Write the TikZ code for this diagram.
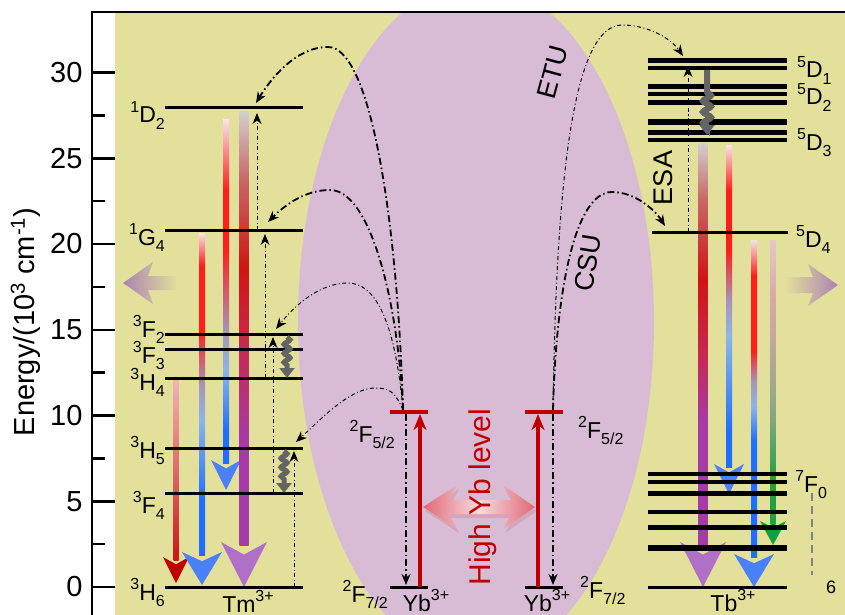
\documentclass[tikz,border=0pt]{standalone}
\usepackage{fontspec}
\setmainfont{Liberation Sans}
\usetikzlibrary{arrows.meta,decorations.pathmorphing}

\definecolor{khaki}{HTML}{E3E09B}
\definecolor{lilac}{HTML}{D8BCD6}
\definecolor{ybred}{HTML}{C00000}
\definecolor{waveg}{HTML}{646464}
\definecolor{glow}{HTML}{AA84B2}
\definecolor{pinkend}{HTML}{E06878}
\definecolor{pinkmid}{HTML}{F7DADD}
\definecolor{pale}{HTML}{F4E4E8}
\definecolor{pinkA}{HTML}{F0B4B4}
\definecolor{redA}{HTML}{E06868}
\definecolor{redB}{HTML}{D01414}
\definecolor{brightred}{HTML}{FF1E1E}
\definecolor{greyblue}{HTML}{A894B8}
\definecolor{lightblue}{HTML}{8CB6E8}
\definecolor{bblue}{HTML}{1E6EFF}
\definecolor{headblue}{HTML}{4A80F8}
\definecolor{greyd}{HTML}{D4CECE}
\definecolor{rosy}{HTML}{C86666}
\definecolor{crimson}{HTML}{C8284C}
\definecolor{purp}{HTML}{A63AA6}
\definecolor{headpurp}{HTML}{B070C8}
\definecolor{paleR}{HTML}{E4C8C8}
\definecolor{dusty}{HTML}{D8A8A8}
\definecolor{olivegrey}{HTML}{A8A890}
\definecolor{sage}{HTML}{80A880}
\definecolor{grn}{HTML}{22A046}
\definecolor{headgrn}{HTML}{10A040}

\pgfdeclareverticalshading{tmA}{100bp}{color(0bp)=(redB); color(25bp)=(redB); color(50bp)=(redA); color(75bp)=(pinkA); color(100bp)=(pinkA)}
\pgfdeclareverticalshading{tmB}{100bp}{color(0bp)=(bblue); color(33.5bp)=(bblue); color(46bp)=(lightblue); color(51.4bp)=(greyblue); color(59.9bp)=(brightred); color(70bp)=(brightred); color(75bp)=(pale); color(100bp)=(pale)}
\pgfdeclareverticalshading{tmC}{100bp}{color(0bp)=(bblue); color(29.7bp)=(bblue); color(38.5bp)=(lightblue); color(44.3bp)=(greyblue); color(56bp)=(brightred); color(64.8bp)=(brightred); color(75bp)=(pale); color(100bp)=(pale)}
\pgfdeclareverticalshading{tmD}{100bp}{color(0bp)=(purp); color(37.1bp)=(purp); color(48.7bp)=(crimson); color(56.8bp)=(redB); color(67.1bp)=(rosy); color(75bp)=(greyd); color(100bp)=(greyd)}
\pgfdeclareverticalshading{tbA}{100bp}{color(0bp)=(purp); color(40.5bp)=(purp); color(49.3bp)=(crimson); color(58bp)=(redB); color(67.9bp)=(rosy); color(75bp)=(greyd); color(100bp)=(greyd)}
\pgfdeclareverticalshading{tbB}{100bp}{color(0bp)=(bblue); color(30.5bp)=(bblue); color(45.3bp)=(lightblue); color(50.8bp)=(greyblue); color(58.6bp)=(brightred); color(68bp)=(brightred); color(75bp)=(pale); color(100bp)=(pale)}
\pgfdeclareverticalshading{tbC}{100bp}{color(0bp)=(bblue); color(43.3bp)=(bblue); color(48.8bp)=(lightblue); color(52.8bp)=(greyblue); color(57.5bp)=(brightred); color(69.4bp)=(brightred); color(75bp)=(pale); color(100bp)=(pale)}
\pgfdeclareverticalshading{tbD}{100bp}{color(0bp)=(grn); color(32.9bp)=(grn); color(43.4bp)=(sage); color(50.4bp)=(olivegrey); color(64.5bp)=(dusty); color(75bp)=(paleR); color(100bp)=(paleR)}
\pgfdeclarehorizontalshading{ybglow}{100bp}{color(0bp)=(pinkend); color(25bp)=(pinkend); color(50bp)=(pinkmid); color(75bp)=(pinkend); color(100bp)=(pinkend)}

\newcommand{\term}[3]{\raisebox{0.45em}{\fontsize{16}{16}\selectfont#1}#2\raisebox{-0.3em}{\fontsize{16}{16}\selectfont#3}}
\newcommand{\ion}[2]{#1\raisebox{0.45em}{\fontsize{16}{16}\selectfont#2}}
\newcommand{\emit}[8]{%
  \shade[shading=#7] ({#1-#4},#2) rectangle ({#1+#4},{#3-#6+3});
  \fill[#8] (#1,#3) -- ({#1-#5},{#3-#6}) -- (#1,{#3-0.72*#6}) -- ({#1+#5},{#3-#6}) -- cycle;}

\tikzset{
  lvl/.style={line width=3pt},
  ddthick/.style={line width=1.8pt, dash pattern=on 7pt off 3pt on 1.5pt off 3pt},
  ddthin/.style={line width=1pt, dash pattern=on 4pt off 2.5pt on 1pt off 2.5pt},
  tipped/.style={-{Stealth[length=11pt,width=9pt,inset=3.5pt]}},
  pump/.style={ybred, line width=3.5pt, -{Stealth[length=16pt,width=13pt,inset=5pt]}},
  wavy/.style={draw=waveg, line width=5pt, decorate, decoration={snake, amplitude=3pt, segment length=9pt, post length=10pt}, -{Triangle[length=10pt,width=15pt]}},
  lbl/.style={font=\fontsize{23}{26}\selectfont, inner sep=0pt},
}

\begin{document}
\begin{tikzpicture}[x=1pt, y=-1pt]
  \useasboundingbox (0,0) rectangle (845,615);
  \fill[khaki] (115,13) rectangle (845,615);
  \begin{scope}
    \clip (115,13) rectangle (845,615);
    \fill[lilac] (476,322) ellipse [x radius=178, y radius=340];
  \end{scope}

  \shade[left color=glow, middle color=glow!60!khaki, right color=khaki] (123,283) -- (153,262) -- (148,276) -- (178,276) -- (178,290) -- (148,290) -- (153,304) -- cycle;
  \shade[left color=khaki, middle color=glow!60!khaki, right color=glow] (838,285) -- (808,264) -- (813,277) -- (785,277) -- (785,293) -- (813,293) -- (808,306) -- cycle;
  \fill[ybred, opacity=0.12] (425,511) -- (459,489) -- (451,504) -- (513,504) -- (505,489) -- (537,511) -- (505,533) -- (513,518) -- (451,518) -- (459,533) -- cycle;
  \shade[shading=ybglow] (423,507) -- (457,485) -- (449,500) -- (511,500) -- (503,485) -- (535,507) -- (503,529) -- (511,514) -- (449,514) -- (457,529) -- cycle;

  \emit{176}{380}{583}{2.5}{13}{26}{tmA}{ybred}
  \emit{202}{233}{585}{3}{20}{33}{tmB}{headblue}
  \emit{226}{120}{490}{3}{15}{30}{tmC}{headblue}
  \emit{244}{112}{587}{4.5}{23}{45}{tmD}{headpurp}
  \emit{703}{143}{587}{4.5}{23}{45}{tbA}{headpurp}
  \emit{729}{145}{494}{3}{15}{30}{tbB}{headblue}
  \emit{754}{240}{587}{3}{20}{33}{tbC}{headblue}
  \emit{773}{240}{545}{2.5}{13}{24}{tbD}{headgrn}

  \foreach \y in {108,230,334,349,378,448,493,587}
    \draw[lvl] (165,\y) -- (303,\y);
  \foreach \y/\w in {61/5,68/4,87/5,94/4,103/5,122/6,132/5,140/4,474/4,482/4,493/5,512/3.5,527/5,548/5.5}
    \draw[line width=\w pt] (648,\y) -- (787,\y);
  \draw[lvl] (652,232) -- (788,232);
  \draw[lvl] (648,587) -- (787,587);
  \draw[line width=3.5pt, ybred] (390,412) -- (428,412);
  \draw[lvl] (390,587) -- (428,587);
  \draw[line width=3.5pt, ybred] (525,412) -- (563,412);
  \draw[lvl] (525,587) -- (563,587);

  \coordinate (ybL) at (403,410);
  \coordinate (ybR) at (553,410);
  \coordinate (d2in) at (256,103);
  \coordinate (g4in) at (268,222);
  \coordinate (f2in) at (276,329);
  \coordinate (h5in) at (296,442);
  \coordinate (d1in) at (683,56);
  \coordinate (d4in) at (665,226);
  \coordinate (ybLup0) at (420,587);
  \coordinate (ybLup1) at (420,414);
  \coordinate (ybRup0) at (538,587);
  \coordinate (ybRup1) at (538,414);
  \coordinate (ybLdn0) at (406,414);
  \coordinate (ybLdn1) at (406,585);
  \coordinate (ybRdn0) at (553,414);
  \coordinate (ybRdn1) at (553,585);
  \coordinate (esa1a) at (257,230);
  \coordinate (esa1b) at (257,113);
  \coordinate (esa2a) at (265,378);
  \coordinate (esa2b) at (265,234);
  \coordinate (esa3a) at (273,493);
  \coordinate (esa3b) at (273,337);
  \coordinate (esa4a) at (294,587);
  \coordinate (esa4b) at (294,451);
  \coordinate (esa5a) at (688,232);
  \coordinate (esa5b) at (688,66);

  \draw[pump] (ybLup0) -- (ybLup1);
  \draw[pump] (ybRup0) -- (ybRup1);
  \draw[ddthick, tipped] (ybLdn0) -- (ybLdn1);
  \draw[ddthick, tipped] (ybRdn0) -- (ybRdn1);

  \draw[ddthick, tipped] (ybL) .. controls (398,230) and (372,47) .. (328,47) .. controls (295,47) and (270,80) .. (d2in);
  \draw[ddthick, tipped] (ybL) .. controls (398,300) and (370,190) .. (330,190) .. controls (305,190) and (285,205) .. (g4in);
  \draw[ddthin, tipped] (ybL) .. controls (395,320) and (375,283) .. (348,283) .. controls (320,283) and (295,305) .. (f2in);
  \draw[ddthin, tipped] (ybL) .. controls (395,392) and (390,388) .. (375,388) .. controls (350,388) and (320,420) .. (h5in);
  \draw[ddthin, tipped] (ybR) .. controls (556,200) and (570,25) .. (622,25) .. controls (650,25) and (672,40) .. (d1in);
  \draw[ddthick, tipped] (ybR) .. controls (556,290) and (575,192) .. (612,192) .. controls (635,192) and (655,210) .. (d4in);

  \draw[ddthin, tipped] (esa1a) -- (esa1b);
  \draw[ddthin, tipped] (esa2a) -- (esa2b);
  \draw[ddthin, tipped] (esa3a) -- (esa3b);
  \draw[ddthin, tipped] (esa4a) -- (esa4b);
  \draw[ddthin, tipped] (esa5a) -- (esa5b);

  \draw[wavy] (287,337) -- (287,378);
  \draw[wavy] (284,451) -- (284,493);
  \draw[wavy, line width=6pt, decoration={snake, amplitude=4pt, segment length=11pt, pre length=22pt, post length=6pt}] (707,70) -- (707,135);
  \draw[waveg!80, line width=2.5pt, dash pattern=on 8pt off 5pt] (812,493) -- (812,575);

  \node[lbl, anchor=base east] (tD2) at (165,123) {\term{1}{D}{2}};
  \node[lbl, anchor=base east] (tG4) at (165,245) {\term{1}{G}{4}};
  \node[lbl, anchor=base east] (tF2) at (165,337) {\term{3}{F}{2}};
  \node[lbl, anchor=base east] (tF3) at (165,363) {\term{3}{F}{3}};
  \node[lbl, anchor=base east] (tH4) at (165,390) {\term{3}{H}{4}};
  \node[lbl, anchor=base east] (tH5) at (165,458) {\term{3}{H}{5}};
  \node[lbl, anchor=base east] (tF4) at (165,513) {\term{3}{F}{4}};
  \node[lbl, anchor=base east] (tH6) at (165,600) {\term{3}{H}{6}};
  \node[lbl, anchor=base] (tm) at (248,612) {\ion{Tm}{3+}};

  \node[lbl, anchor=base east] (ybL52) at (395,442) {\term{2}{F}{5/2}};
  \node[lbl, anchor=base east] (ybL72) at (388,602) {\term{2}{F}{7/2}};
  \node[lbl, anchor=base west] (ybR52) at (578,438) {\term{2}{F}{5/2}};
  \node[lbl, anchor=base west] (ybR72) at (580,598) {\term{2}{F}{7/2}};
  \node[lbl, anchor=base] (ybLion) at (426,611) {\ion{Yb}{3+}};
  \node[lbl, anchor=base] (ybRion) at (547,611) {\ion{Yb}{3+}};

  \node[lbl, anchor=base west] (tD1) at (797,78) {\term{5}{D}{1}};
  \node[lbl, anchor=base west] (tD2b) at (797,105) {\term{5}{D}{2}};
  \node[lbl, anchor=base west] (tD3) at (797,150) {\term{5}{D}{3}};
  \node[lbl, anchor=base west] (tD4) at (796,247) {\term{5}{D}{4}};
  \node[lbl, anchor=base west] (tF0) at (795,492) {\term{7}{F}{0}};
  \node[lbl, anchor=base, font=\fontsize{18}{18}\selectfont] (tF6) at (831,593) {6};
  \node[lbl, anchor=base] (tb) at (733,611) {\ion{Tb}{3+}};

  \node[rotate=90, anchor=base, text=ybred, font=\fontsize{30}{30}\selectfont] (hyb) at (490,497) {High Yb level};
  \node[rotate=90, anchor=base, font=\fontsize{27}{27}\selectfont] (esa) at (672,178) {ESA};
  \node[rotate=75, font=\fontsize{27}{27}\selectfont] (etu) at (553,72) {ETU};
  \node[rotate=81, font=\fontsize{27}{27}\selectfont] (csu) at (588,263) {CSU};

  \foreach \e in {0,5,...,30} {
    \draw[line width=2.5pt] (92,{587-17.15*\e}) -- (115,{587-17.15*\e});
    \node[anchor=east, font=\fontsize{29}{29}\selectfont] at (86,{587-17.15*\e}) {\e};
  }
  \foreach \e in {2.5,7.5,...,27.5}
    \draw[line width=2.5pt] (92,{587-17.15*\e}) -- (105,{587-17.15*\e});
  \draw[line width=2.5pt] (92,616) -- (92,12) -- (846,12);
  \node[rotate=90, anchor=base, font=\fontsize{29}{29}\selectfont] (elab) at (34,322) {Energy/(10\textsuperscript{3} cm\textsuperscript{-1})};
\end{tikzpicture}
\end{document}
